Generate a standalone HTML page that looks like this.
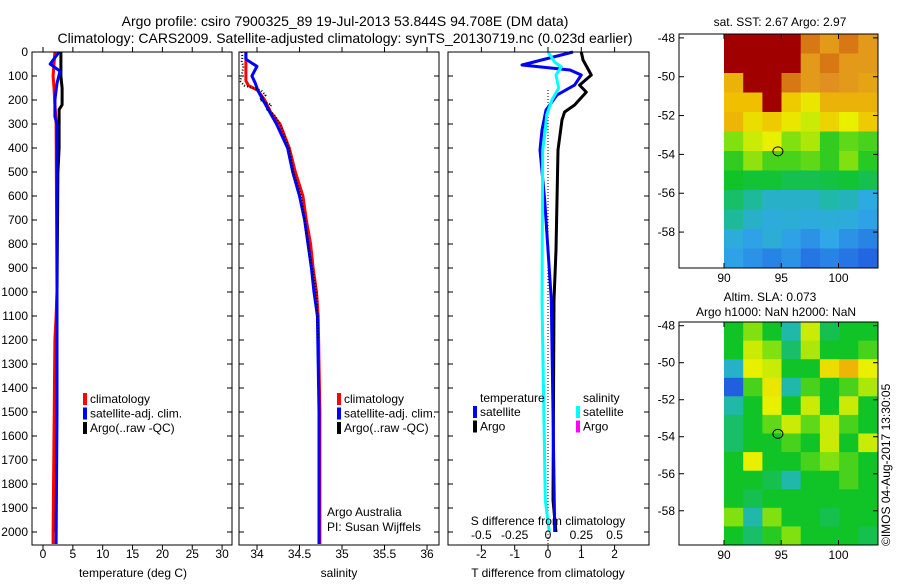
<!DOCTYPE html>
<html><head><meta charset="utf-8"><style>
body{margin:0;background:#fff}
svg text{font-family:"Liberation Sans",sans-serif;fill:#000}
</style></head><body>
<svg id="fig" width="900" height="580" xmlns="http://www.w3.org/2000/svg">
<rect width="900" height="580" fill="#fff"/>
<text x="345" y="26" font-size="14" text-anchor="middle">Argo profile: csiro 7900325_89 19-Jul-2013 53.844S 94.708E (DM data)</text>
<text x="345" y="43" font-size="14" text-anchor="middle">Climatology: CARS2009. Satellite-adjusted climatology: synTS_20130719.nc (0.023d earlier)</text>
<g id="p1"></g>
<g id="p2"></g>
<g id="p3"></g>
<g id="m1"></g>
<g id="m2"></g>
<text transform="translate(890,546) rotate(-90)" font-size="12">©IMOS 04-Aug-2017 13:30:05</text>
</svg>
<script>
// ---- data ----
const tClimDepth=[0,100,150,300,1000,1100,1200,2000,2050];
const tClim=[2.0,1.7,1.85,2.2,2.35,2.2,2.0,1.7,1.7];
const tSatDepth=[0,50,80,130,200,270,300,1000,1500,2050];
const tSat=[2.7,1.2,2.85,2.35,2.0,2.0,2.35,2.35,2.35,2.2];
const tArgoDepth=[0,100,150,220,240,400,500,1000,2000];
const tArgo=[3.0,3.0,3.2,3.2,2.7,2.7,2.5,2.35,2.0];
const sClimDepth=[0,120,140,160,200,250,300,400,500,600,700,800,900,1000,1100,1300,1500,2050];
const sClim=[33.87,33.87,33.9,34.01,34.09,34.16,34.27,34.38,34.45,34.54,34.58,34.63,34.66,34.7,34.72,34.73,34.74,34.74];
const sSatDepth=[0,30,60,80,100,130,160,200,250,300,400,500,600,700,800,900,1000,1100,1300,1500,2050];
const sSat=[33.87,33.87,34.0,33.97,33.94,33.98,34.01,34.07,34.15,34.23,34.36,34.42,34.5,34.56,34.6,34.64,34.67,34.71,34.72,34.73,34.73];
const sArgoDepth=[0,20,40,60,80,100,120,140,160,180,200,220,240,260,300,400,500,600,800,1000,1200];
const sArgo=[33.82,33.83,33.82,33.84,33.83,33.82,33.8,33.85,34.05,34.1,34.03,34.17,34.12,34.2,34.27,34.38,34.43,34.52,34.6,34.7,34.72];
const dSatDepth=[0,54,75,96,138,179,242,325,408,617,1033,1500,2000];
const dTSat=[0.75,-0.78,0.66,1.0,0.8,0.27,-0.06,-0.18,-0.24,-0.1,0.1,0.15,0.2];
const dArgoDepth=[0,33,96,138,167,221,250,283,408,825,1033,1867,2000];
const dTArgo=[1.0,1.05,1.3,0.95,1.15,0.8,0.5,0.42,0.3,0.24,0.18,0.15,0.24];
const dSDepth=[0,42,62,96,150,200,262,325,408,1033,1867,2000];
const dSSat=[0,0.05,0.1,0.06,0.08,0.03,-0.01,-0.02,-0.04,-0.045,-0.02,0.01];
const depthTicks=[0,100,200,300,400,500,600,700,800,900,1000,1100,1200,1300,1400,1500,1600,1700,1800,1900,2000];
const tTicks=[0,5,10,15,20,25,30];
const sTicks=[34,34.5,35,35.5,36];
const sTickLabels=["34","34.5","35","35.5","36"];
const dTTicks=[-2,-1,0,1,2];
const dSTicks=[-0.5,-0.25,0,0.25,0.5];
const dSTickLabels=["-0.5","-0.25","0","0.25","0.5"];
const latTicks=[-48,-50,-52,-54,-56,-58];
const lonTicks=[90,95,100];
const argoLon=94.708, argoLat=-53.844;
const sstGrid=[
[1,1,1,1,.85,.8,.85,.8],
[1,1,1,1,.8,.85,.8,.8],
[.75,1,1,.85,.8,.82,.8,.78],
[.72,.72,1,.7,.64,.75,.75,.75],
[.74,.66,.7,.64,.6,.68,.62,.7],
[.55,.6,.62,.55,.58,.48,.52,.5],
[.48,.56,.5,.5,.52,.48,.55,.47],
[.45,.44,.44,.42,.42,.43,.44,.42],
[.4,.36,.3,.3,.3,.35,.32,.26],
[.36,.3,.27,.28,.27,.28,.27,.24],
[.27,.24,.28,.24,.22,.25,.22,.2],
[.24,.22,.2,.22,.18,.2,.18,.16]];
const slaGrid=[
[.45,.55,.45,.35,.6,.42,.45,.45],
[.45,.6,.55,.4,.58,.45,.45,.5],
[.3,.62,.6,.45,.45,.66,.74,.62],
[.15,.5,.64,.35,.5,.45,.5,.58],
[.35,.45,.62,.45,.6,.45,.6,.45],
[.4,.45,.52,.6,.52,.6,.5,.45],
[.4,.45,.45,.5,.45,.6,.45,.6],
[.45,.62,.45,.45,.5,.55,.5,.45],
[.45,.45,.42,.35,.45,.45,.5,.45],
[.45,.42,.45,.45,.45,.45,.45,.45],
[.55,.35,.55,.45,.45,.42,.45,.45],
[.45,.4,.47,.55,.45,.45,.45,.42]];
// ---- helpers ----
const NS="http://www.w3.org/2000/svg";
function mk(tag,attrs,parent){const e=document.createElementNS(NS,tag);for(const k in attrs)e.setAttribute(k,attrs[k]);parent.appendChild(e);return e;}
function txt(s,x,y,anchor,size,parent){const e=mk('text',{x:x,y:y,'text-anchor':anchor,'font-size':size},parent);e.textContent=s;return e;}
const yD=d=>52+d*0.24;
const xT=t=>43+t*5.97;
const xS=s=>257+(s-34)*85;
const xTd=v=>548+v*33.3;
const xSd=v=>548+v*133.3;
function line(depths,vals,xf,color,w,parent,name,dash){
  const pts=depths.map((d,i)=>xf(vals[i]).toFixed(1)+","+yD(d).toFixed(1)).join(" ");
  const e=mk('polyline',{points:pts,fill:'none',stroke:color,'stroke-width':w,'stroke-linejoin':'round'},parent);
  if(dash)e.setAttribute('stroke-dasharray',dash);
  
  
  return e;
}
function box(x0,x1,y0,y1,parent){
  const r=mk('rect',{x:x0,y:y0,width:x1-x0,height:y1-y0,fill:'none',stroke:'#000','stroke-width':1},parent);
  
  
}
function yTicks(x0,x1,parent,labels){
  depthTicks.forEach(d=>{const y=yD(d);
    mk('line',{x1:x0,y1:y,x2:x0+5,y2:y,stroke:'#000'},parent);
    mk('line',{x1:x1,y1:y,x2:x1-5,y2:y,stroke:'#000'},parent);
    if(labels){const t=txt(String(d),x0-4,y+4,'end',12,parent);
      
      }
  });
}
function xTicks(vals,labs,xf,y0,y1,parent,labelY){
  vals.forEach((v,i)=>{const x=xf(v);
    mk('line',{x1:x,y1:y0,x2:x,y2:y0+5,stroke:'#000'},parent);
    mk('line',{x1:x,y1:y1,x2:x,y2:y1-5,stroke:'#000'},parent);
    if(labelY){const t=txt(labs[i],x,labelY,'middle',12,parent);
      
      }
  });
}
function legend(items,x,y,parent){
  items.forEach((it,i)=>{const yy=y+i*14.5;
    const r=mk('rect',{x:x,y:yy-10,width:4,height:12,fill:it[1]},parent);
    
    
    const t=txt(it[0],x+7,yy,'start',12,parent);
    
    
  });
}
// ---- panel 1 ----
const p1=document.getElementById('p1');
line(tArgoDepth,tArgo,xT,'#000',3,p1,'temp-argo-line');
line(tClimDepth,tClim,xT,'#f00',3,p1,'temp-climatology-line');
line(tSatDepth,tSat,xT,'#00f',3,p1,'temp-satellite-line');
box(32,232,52,545,p1);yTicks(32,232,p1,true);
xTicks(tTicks,tTicks.map(String),xT,545,52,p1,558);
txt('temperature (deg C)',133,577,'middle',12,p1);
legend([['climatology','#f00'],['satellite-adj. clim.','#00f'],['Argo(..raw -QC)','#000']],83,403,p1);
// ---- panel 2 ----
const p2=document.getElementById('p2');
line(sClimDepth,sClim,xS,'#f00',3,p2,'sal-climatology-line');
line(sSatDepth,sSat,xS,'#00f',3,p2,'sal-satellite-line');
line(sArgoDepth,sArgo,xS,'#000',2,p2,'sal-argo-line','1 2');
box(239,439,52,545,p2);yTicks(239,439,p2,false);
xTicks(sTicks,sTickLabels,xS,545,52,p2,558);
txt('salinity',339,577,'middle',12,p2);
legend([['climatology','#f00'],['satellite-adj. clim.','#00f'],['Argo(..raw -QC)','#000']],337,403,p2);
txt('Argo Australia',327,516,'start',12,p2);
txt('PI: Susan Wijffels',327,531,'start',12,p2);
// ---- panel 3 ----
const p3=document.getElementById('p3');
const zl=mk('line',{x1:548,y1:90,x2:548,y2:545,stroke:'#000','stroke-dasharray':'1 2'},p3);

line(dArgoDepth,dTArgo,xTd,'#000',3,p3,'tdiff-argo-line');
line(dSatDepth,dTSat,xTd,'#00f',3,p3,'tdiff-satellite-line');
line(dSDepth,dSSat,xSd,'#0ff',3,p3,'sdiff-satellite-line');
box(448,649,52,545,p3);yTicks(448,649,p3,false);
xTicks(dTTicks,dTTicks.map(String),xTd,545,52,p3,558);
dSTicks.forEach((v,i)=>{const t=txt(dSTickLabels[i],xSd(v),539,'middle',12,p3);
  });
txt('S difference from climatology',548,525,'middle',12,p3);
txt('T difference from climatology',548,577,'middle',12,p3);
txt('temperature',480,402,'start',12,p3);
txt('salinity',583,402,'start',12,p3);
legend([['satellite','#00f'],['Argo','#000']],473,416,p3);
legend([['satellite','#0ff'],['Argo','#f0f']],576,416,p3);
// ---- maps ----
const stops=[[0,[16,48,176]],[.15,[32,96,224]],[.25,[48,168,232]],[.35,[32,184,168]],[.45,[16,196,40]],[.55,[128,224,16]],[.62,[232,240,0]],[.72,[240,192,0]],[.82,[224,144,32]],[.9,[200,80,0]],[.95,[160,0,0]],[1,[160,0,0]]];
function col(v){for(let i=1;i<stops.length;i++){if(v<=stops[i][0]){const a=stops[i-1],b=stops[i],f=(v-a[0])/(b[0]-a[0]||1);
  return 'rgb('+a[1].map((c,k)=>Math.round(c+(b[1][k]-c)*f)).join(',')+')';}}return 'rgb(160,0,0)';}
function map(g,grid,top,bot,title1,title2){
  const latTop=-47.8,latBot=-59.85;
  const yL=lat=>top+(latTop-lat)*(bot-top)/(latTop-latBot);
  const xL=lon=>724+(lon-90)*11.45;
  const nr=grid.length,nc=grid[0].length,dLon=(103.4-90)/nc,dLat=(latTop-latBot)/nr;
  grid.forEach((row,r)=>row.forEach((v,c)=>{
    const x0=xL(90+c*dLon),x1=xL(90+(c+1)*dLon),y0=yL(latTop-r*dLat),y1=yL(latTop-(r+1)*dLat);
    const e=mk('rect',{x:x0.toFixed(1),y:y0.toFixed(1),width:(x1-x0+0.5).toFixed(1),height:(y1-y0+0.5).toFixed(1),fill:col(v)},g);
    
    
  }));
  box(679,878,top,bot,g);
  latTicks.forEach(l=>{const y=yL(l);
    mk('line',{x1:679,y1:y,x2:684,y2:y,stroke:'#000'},g);mk('line',{x1:878,y1:y,x2:873,y2:y,stroke:'#000'},g);
    const t=txt(String(l),675,y+4,'end',12,g);});
  lonTicks.forEach(l=>{const x=xL(l);
    mk('line',{x1:x,y1:top,x2:x,y2:top+5,stroke:'#000'},g);mk('line',{x1:x,y1:bot,x2:x,y2:bot-5,stroke:'#000'},g);
    const t=txt(String(l),x,bot+14,'middle',12,g);});
  const c=mk('ellipse',{cx:xL(argoLon),cy:yL(argoLat),rx:5,ry:4.5,fill:'none',stroke:'#000','stroke-width':1},g);
  
  
}
const m1=document.getElementById('m1'),m2=document.getElementById('m2');
map(m1,sstGrid,34,268);
map(m2,slaGrid,322,545);
txt('sat. SST: 2.67 Argo: 2.97',780,26,'middle',12,m1);
txt('Altim. SLA: 0.073',770,301,'middle',12,m2);
txt('Argo h1000: NaN h2000: NaN',776,316,'middle',12,m2);
</script>
</body></html>
